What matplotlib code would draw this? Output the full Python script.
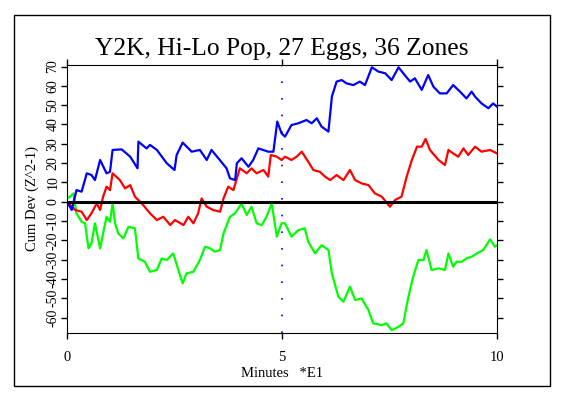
import matplotlib
matplotlib.use('Agg')
import matplotlib.pyplot as plt
from matplotlib.patches import Rectangle

# Values (x in minutes*E1, y in Cum Dev)
blue_x = [0.0, 0.11, 0.22, 0.34, 0.46, 0.57, 0.65, 0.77, 0.92, 1.00, 1.06, 1.27, 1.47, 1.64, 1.66,
          1.85, 1.93, 2.09, 2.32, 2.50, 2.55, 2.69, 2.90, 3.09, 3.25, 3.36, 3.52, 3.71, 3.79, 3.91,
          3.95, 4.06, 4.22, 4.33, 4.45, 4.68, 4.80, 4.89, 4.99, 5.07, 5.22, 5.38, 5.57, 5.69, 5.81,
          5.92, 6.08, 6.16, 6.27, 6.39, 6.50, 6.66, 6.81, 6.93, 7.09, 7.24, 7.40, 7.55, 7.71, 7.82,
          7.98, 8.09, 8.25, 8.40, 8.52, 8.67, 8.83, 8.98, 9.14, 9.29, 9.41, 9.49, 9.64, 9.80, 9.91, 10.0]
blue_y = [0.0, -4.3, 6.0, 5.2, 14.7, 13.8, 11.2, 21.6, 14.7, 15.5, 26.8, 27.1, 23.3, 17.3, 31.1,
          27.6, 29.4, 26.8, 19.9, 16.4, 24.2, 30.6, 25.9, 26.8, 21.6, 26.8, 22.5, 17.3, 12.1, 11.2,
          19.9, 22.5, 18.1, 21.6, 27.6, 25.9, 25.9, 41.5, 35.4, 33.7, 39.7, 40.6, 42.3, 40.6, 43.2,
          38.9, 36.3, 54.4, 62.2, 63.0, 61.3, 60.4, 62.2, 60.4, 69.6, 67.4, 66.5, 63.0, 69.6, 66.5,
          62.2, 63.9, 57.9, 65.6, 59.6, 56.1, 56.1, 60.4, 57.0, 53.5, 57.0, 54.4, 50.9, 48.4, 50.9, 49.2]

red_x = [0.0, 0.19, 0.34, 0.46, 0.57, 0.69, 0.77, 0.84, 0.92, 1.00, 1.06, 1.23, 1.35, 1.47, 1.58,
         1.74, 1.93, 2.09, 2.24, 2.40, 2.51, 2.71, 2.82, 2.94, 3.05, 3.13, 3.25, 3.40, 3.56, 3.64,
         3.75, 3.87, 4.02, 4.18, 4.29, 4.41, 4.57, 4.68, 4.74, 4.88, 4.99, 5.07, 5.22, 5.34, 5.46,
         5.61, 5.73, 5.88, 6.00, 6.12, 6.27, 6.43, 6.58, 6.70, 6.85, 7.01, 7.16, 7.32, 7.51, 7.63,
         7.78, 7.90, 8.02, 8.14, 8.25, 8.34, 8.44, 8.64, 8.79, 8.87, 8.98, 9.10, 9.22, 9.33, 9.49,
         9.64, 9.84, 10.0]
red_y = [0.0, -4.3, -5.2, -9.5, -6.0, -0.9, -4.3, 2.6, 7.8, 6.0, 14.7, 11.2, 6.9, 8.6, 2.6,
         -0.9, -6.0, -9.5, -7.8, -12.1, -9.5, -12.1, -7.8, -11.2, -6.0, 1.7, -2.6, -4.3, -5.2, 1.7,
         7.8, 6.0, 17.3, 14.7, 17.3, 14.7, 16.4, 13.0, 24.2, 23.3, 21.6, 23.3, 21.6, 23.3, 25.9,
         20.7, 16.4, 15.5, 13.0, 11.2, 13.8, 11.2, 16.4, 11.2, 9.5, 8.6, 4.3, 2.6, -2.6, 0.9,
         2.6, 13.0, 21.6, 28.5, 28.5, 32.5, 26.8, 21.6, 19.0, 26.8, 25.0, 23.3, 27.6, 24.2, 28.5,
         25.9, 26.8, 25.0]

green_x = [0.0, 0.07, 0.15, 0.22, 0.34, 0.42, 0.50, 0.57, 0.65, 0.77, 0.84, 0.92, 1.00, 1.06, 1.12,
           1.19, 1.31, 1.43, 1.58, 1.66, 1.81, 1.93, 2.09, 2.20, 2.32, 2.47, 2.59, 2.69, 2.78, 2.94,
           3.09, 3.21, 3.33, 3.44, 3.56, 3.64, 3.79, 3.91, 4.06, 4.18, 4.29, 4.41, 4.53, 4.64, 4.76,
           4.88, 4.99, 5.07, 5.22, 5.38, 5.53, 5.61, 5.77, 5.92, 6.08, 6.16, 6.31, 6.43, 6.58, 6.70,
           6.85, 7.01, 7.12, 7.32, 7.43, 7.55, 7.71, 7.82, 7.94, 8.05, 8.17, 8.29, 8.36, 8.48, 8.64,
           8.79, 8.87, 8.98, 9.06, 9.18, 9.29, 9.41, 9.53, 9.68, 9.84, 9.95, 10.0]
green_y = [1.7, 2.6, 4.3, -6.0, -10.4, -11.2, -24.2, -21.6, -11.2, -24.2, -16.4, -7.8, -10.4, -0.9, -11.2,
           -16.4, -19.0, -13.0, -13.8, -29.4, -31.1, -36.3, -35.4, -29.4, -30.2, -26.8, -35.4, -42.3, -37.1, -36.3,
           -30.2, -23.3, -24.2, -25.9, -25.0, -16.4, -7.8, -6.0, -0.9, -6.9, -2.6, -11.2, -12.1, -7.8, -0.9,
           -18.1, -11.2, -11.2, -18.1, -14.7, -13.8, -20.7, -26.8, -22.5, -25.0, -37.1, -49.2, -51.8, -44.0, -50.9,
           -50.1, -56.1, -63.0, -63.9, -63.0, -66.5, -64.8, -63.0, -49.2, -38.9, -30.2, -30.2, -25.0, -35.4, -34.5,
           -35.4, -26.8, -33.7, -31.1, -31.1, -29.4, -28.5, -26.8, -25.0, -19.5, -23.3, -22.5]

y_ticks = list(range(-60, 80, 10))
x_ticks = [0, 5, 10]
event_x = 5

plt.rcParams['font.family'] = 'Liberation Serif'
plt.rcParams['axes.unicode_minus'] = False  # plain hyphens like the original

fig = plt.figure(figsize=(5.64, 3.97), dpi=100)
ax = fig.add_axes([0.1188, 0.1612, 0.7624, 0.6751])

# outer frame round the whole chart
fig.patches.append(Rectangle((0.0248, 0.0277), 0.9504, 0.9345, transform=fig.transFigure,
                             fill=False, edgecolor='black', linewidth=1.0))

ax.plot(green_x, green_y, color='#00ff00', linewidth=1.6)
ax.plot(red_x, red_y, color='#ff0000', linewidth=1.6)
ax.plot(blue_x, blue_y, color='#0000ff', linewidth=1.6)
ax.axhline(0, color='black', linewidth=2.2)
ax.axvline(event_x, color='#0000ff', linewidth=1.2, linestyle=(0, (1, 9)))

ax.set_xlim(0, 10)
ax.set_ylim(-68, 70.8)
ax.set_xticks(x_ticks)
ax.set_yticks(y_ticks)
ax.tick_params(axis='both', direction='out', length=4, width=1, top=True, right=True)
ax.tick_params(axis='x', pad=9, labelsize=10.5)
ax.tick_params(axis='y', pad=1.5, labelsize=10)
for lab in ax.get_yticklabels():
    lab.set_rotation(90)
    lab.set_va('center')

ax.set_title('Y2K, Hi-Lo Pop, 27 Eggs, 36 Zones', fontsize=18.4, pad=7)
ax.set_xlabel('Minutes   *E1', fontsize=10.5)
ax.set_ylabel('Cum Dev (Z^2-1)', fontsize=10.5)
ax.xaxis.set_label_coords(0.5, -0.125)
ax.yaxis.set_label_coords(-0.064, 0.5)

fig.savefig('out.png', dpi=100)
